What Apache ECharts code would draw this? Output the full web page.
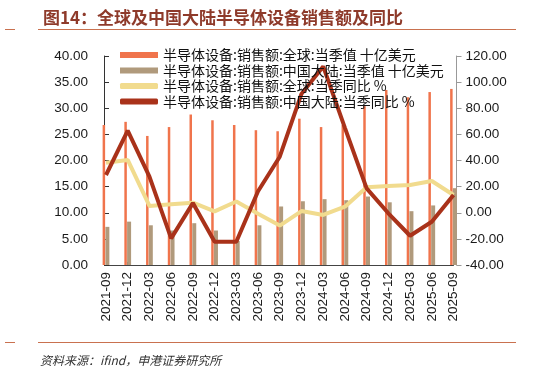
<!DOCTYPE html>
<html>
<head>
<meta charset="utf-8">
<script src="https://cdn.jsdelivr.net/npm/echarts@6/dist/echarts.min.js"></script>
<style>
html,body{margin:0;padding:0;background:#fff;}
#c{width:536px;height:371px;}
</style>
</head>
<body>
<div id="c"></div>
<script>
const categories = ['2021-09','2021-12','2022-03','2022-06','2022-09','2022-12','2023-03','2023-06','2023-09','2023-12','2024-03','2024-06','2024-09','2024-12','2025-03','2025-06','2025-09'];
const globalSales = [26.8, 27.4, 24.7, 26.4, 28.8, 27.7, 26.8, 25.8, 25.6, 28.0, 26.4, 26.8, 30.4, 33.5, 32.1, 33.1, 33.7];
const chinaSales = [7.3, 8.3, 7.6, 6.6, 8.0, 6.6, 4.6, 7.6, 11.2, 12.2, 12.6, 12.4, 13.1, 12.0, 10.3, 11.4, 14.7];
const globalYoY = [38.3, 40.4, 5.2, 6.5, 7.7, 1.0, 8.6, -0.8, -9.8, 1.3, -1.7, 4.6, 19.5, 20.5, 21.3, 24.3, 13.6];
const chinaYoY = [28.9, 62.8, 27.6, -19.6, 7.4, -22.2, -22.2, 16.5, 42.9, 91, 112, 65, 18.7, -0.4, -17.6, -6.9, 13.6];
const leftTicks = {min: 0, max: 40, interval: 5};
const rightTicks = {min: -40, max: 120, interval: 20};
const names = ['半导体设备:销售额:全球:当季值 十亿美元','半导体设备:销售额:中国大陆:当季值 十亿美元','半导体设备:销售额:全球:当季同比 %','半导体设备:销售额:中国大陆:当季同比 %'];

const chart = echarts.init(document.getElementById('c'), null, {renderer: 'canvas'});
const lab = {fontFamily: 'Liberation Sans, Arial, sans-serif', fontSize: 13.5, color: '#1a1a1a'};
chart.setOption({
  animation: false,
  backgroundColor: '#fff',
  title: {
    text: '图14：全球及中国大陆半导体设备销售额及同比',
    left: 38, top: 4,
    textStyle: {fontFamily: 'Noto Sans CJK SC', fontWeight: 'bold', fontSize: 17, color: '#8E3A2A'}
  },
  graphic: [
    {type: 'line', shape: {x1: 5, y1: 29.5, x2: 15, y2: 29.5}, style: {stroke: '#C9714F', lineWidth: 1}},
    {type: 'line', shape: {x1: 38, y1: 29.5, x2: 516, y2: 29.5}, style: {stroke: '#C9714F', lineWidth: 1}},
    {type: 'line', shape: {x1: 5, y1: 342.5, x2: 15, y2: 342.5}, style: {stroke: '#C9714F', lineWidth: 1}},
    {type: 'line', shape: {x1: 38, y1: 342.5, x2: 516, y2: 342.5}, style: {stroke: '#C9714F', lineWidth: 1}},
    {type: 'text', left: 40, top: 354, style: {text: '资料来源：ifind，申港证券研究所', font: 'italic 12px "Noto Sans CJK SC"', fill: '#333'}}
  ],
  legend: {
    orient: 'vertical', left: 120, top: 48, padding: 0,
    itemWidth: 38, itemHeight: 6, itemGap: 1.5, itemGap: 1.5,
    textStyle: {fontFamily: 'Noto Sans CJK SC', fontSize: 14, color: '#111', lineHeight: 14},
    data: [
      {name: names[0], icon: 'rect'},
      {name: names[1], icon: 'rect'},
      {name: names[2], icon: 'roundRect'},
      {name: names[3], icon: 'roundRect'}
    ]
  },
  grid: {left: 106, right: 82.5, top: 56, bottom: 106, containLabel: false},
  xAxis: {
    type: 'category', data: categories, boundaryGap: false,
    axisLine: {lineStyle: {color: '#444', width: 1}},
    axisTick: {inside: true, length: 3, lineStyle: {color: '#444'}},
    axisLabel: Object.assign({rotate: 90, margin: 7, interval: 0}, lab),
    splitLine: {show: false}
  },
  yAxis: [
    {
      type: 'value', min: leftTicks.min, max: leftTicks.max, interval: leftTicks.interval, offset: 2,
      axisLine: {show: true, lineStyle: {color: '#333'}},
      axisTick: {show: true, inside: true, length: 5, lineStyle: {color: '#333'}},
      axisLabel: Object.assign({margin: 16, formatter: v => v.toFixed(2)}, lab),
      splitLine: {show: false}
    },
    {
      type: 'value', min: rightTicks.min, max: rightTicks.max, interval: rightTicks.interval, offset: 3,
      position: 'right',
      axisLine: {show: true, lineStyle: {color: '#999'}},
      axisTick: {show: true, length: 5, lineStyle: {color: '#999'}},
      axisLabel: Object.assign({margin: 9, formatter: v => v.toFixed(2)}, lab),
      splitLine: {show: false}
    }
  ],
  series: [
    {name: names[0], type: 'bar', data: globalSales, barWidth: 2.5, barGap: '10%', itemStyle: {color: '#F0744C'}, yAxisIndex: 0},
    {name: names[1], type: 'bar', data: chinaSales, barWidth: 4, itemStyle: {color: '#B09A7C'}, yAxisIndex: 0},
    {name: names[2], type: 'line', data: globalYoY, yAxisIndex: 1, symbol: 'none', lineStyle: {color: '#F1DB8E', width: 4}, itemStyle: {color: '#F1DB8E'}},
    {name: names[3], type: 'line', data: chinaYoY, yAxisIndex: 1, symbol: 'none', lineStyle: {color: '#A9321A', width: 4}, itemStyle: {color: '#A9321A'}}
  ]
});
</script>
</body>
</html>
